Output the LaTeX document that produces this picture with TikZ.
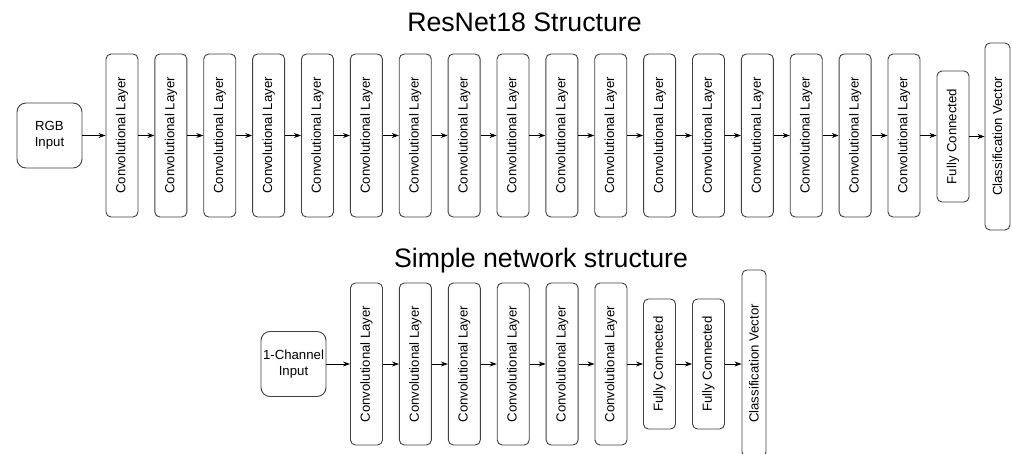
\documentclass[tikz,border=0pt]{standalone}
\usepackage{fontspec}
\setmainfont{Liberation Sans}
\usetikzlibrary{arrows.meta}
\begin{document}
\begin{tikzpicture}[x=1pt,y=-1pt,
  box/.style={draw=black!75, rounded corners=5pt, line width=0.9pt, inner sep=0pt,
    font=\fontsize{13.2}{15.5}\selectfont, align=center},
  conv/.style={box, minimum width=32pt, minimum height=163pt},
  fc/.style={box, minimum width=32pt, minimum height=131pt},
  cls/.style={box, minimum width=25pt, minimum height=187pt},
  inp/.style={box, minimum width=65pt, minimum height=65pt, rounded corners=9pt},
  title/.style={font=\fontsize{26.7}{30}\selectfont, anchor=base},
  link/.style={line width=0.8pt, -{Stealth[length=7pt,width=5pt]}}
]
\clip (0,0) rectangle (1012,454);
\fill[white] (0,0) rectangle (1012,454);

% ---------- ResNet18 ----------
\node[title] (t1) at (524.5,32) {ResNet18 Structure};
\node[inp] (rgb) at (49.5,135.5) {RGB\\Input};
\foreach \i in {1,...,17} {
  \node[conv] (c\i) at ({122+48.875*(\i-1)},135.5) {\rotatebox{90}{Convolutional Layer}};
}
\node[fc] (fc) at (953,136.5) {\rotatebox{90}{Fully Connected}};
\node[cls] (cv) at (997.5,136.5) {\rotatebox{90}{Classification Vector}};

\draw[link] (rgb.east) -- (rgb.east -| c1.west);
\foreach \i [evaluate=\i as \j using int(\i+1)] in {1,...,16} {
  \draw[link] (c\i.east) -- (c\i.east -| c\j.west);
}
\draw[link] (c17.east) -- (c17.east -| fc.west);
\draw[link] (fc.east) -- (fc.east -| cv.west);

% ---------- Simple network ----------
\node[title] (t2) at (541,268) {Simple network structure};
\node[inp] (one) at (293.5,364) {1-Channel\\Input};
\foreach \i in {1,...,6} {
  \node[conv, minimum height=162pt] (s\i) at ({366.5+48.9*(\i-1)},364) {\rotatebox{90}{Convolutional Layer}};
}
\node[fc, minimum height=130pt] (f1) at (659.5,364) {\rotatebox{90}{Fully Connected}};
\node[fc, minimum height=130pt] (f2) at (708.5,364) {\rotatebox{90}{Fully Connected}};
\node[cls, minimum width=24pt] (sv) at (754,363.5) {\rotatebox{90}{Classification Vector}};

\draw[link] (one.east) -- (one.east -| s1.west);
\foreach \i [evaluate=\i as \j using int(\i+1)] in {1,...,5} {
  \draw[link] (s\i.east) -- (s\i.east -| s\j.west);
}
\draw[link] (s6.east) -- (s6.east -| f1.west);
\draw[link] (f1.east) -- (f1.east -| f2.west);
\draw[link] (f2.east) -- (f2.east -| sv.west);
\end{tikzpicture}
\end{document}
